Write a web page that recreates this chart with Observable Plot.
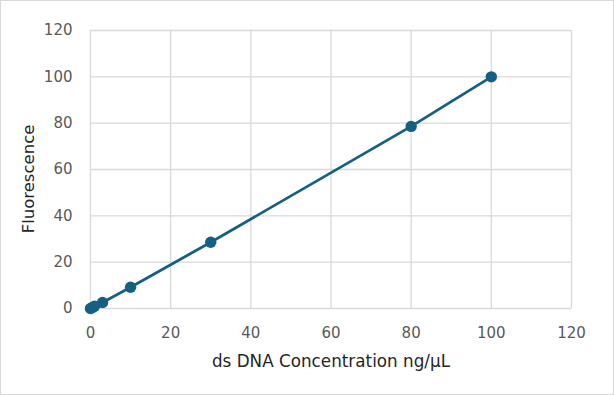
<!DOCTYPE html>
<html>
<head>
<meta charset="utf-8">
<script src="https://cdn.jsdelivr.net/npm/d3@7"></script>
<script src="https://cdn.jsdelivr.net/npm/@observablehq/plot@0.6"></script>
<style>
  html, body { margin: 0; padding: 0; background: #fff; }
  #chart svg { display: block; }
</style>
</head>
<body>
<div id="chart"></div>
<script>
const concentration = [0, 0.5, 1, 3, 10, 30, 80, 100];
const fluorescence = [0, 0.4, 1, 2.6, 9.2, 28.6, 78.6, 100];
const xTicks = [0, 20, 40, 60, 80, 100, 120];
const yTicks = [0, 20, 40, 60, 80, 100, 120];
const xTitle = "ds DNA Concentration ng/µL";
const yTitle = "Fluorescence";

const data = concentration.map((c, i) => ({x: c, y: fluorescence[i]}));
const color = "#156082";
const font = "DejaVu Sans, Verdana, sans-serif";

const chart = Plot.plot({
  width: 614,
  height: 395,
  marginLeft: 90,
  marginRight: 43,
  marginTop: 30,
  marginBottom: 87,
  style: {fontFamily: font, fontSize: "15px", color: "#595959", background: "#fff"},
  x: {domain: [0, 120], ticks: xTicks, label: null},
  y: {domain: [0, 120], ticks: yTicks, label: null},
  marks: [
    Plot.gridX(xTicks, {stroke: "#d9d9d9", strokeOpacity: 1, strokeWidth: 1.3}),
    Plot.gridY(yTicks, {stroke: "#d9d9d9", strokeOpacity: 1, strokeWidth: 1.3}),
    Plot.axisX(xTicks, {tickSize: 0, tickPadding: 19, fill: "#595959", fontSize: 15, label: null}),
    Plot.axisY(yTicks, {tickSize: 0, tickPadding: 18, fill: "#595959", fontSize: 15, label: null}),
    Plot.line(data, {x: "x", y: "y", stroke: color, strokeWidth: 2.8}),
    Plot.dot(data, {x: "x", y: "y", r: 5.7, fill: color, stroke: "none"})
  ]
});

const svg = d3.select(chart);
svg.insert("rect", ":first-child")
  .attr("x", 0.5).attr("y", 0.5)
  .attr("width", 613).attr("height", 394)
  .attr("fill", "#fff").attr("stroke", "#d9d9d9").attr("stroke-width", 1);
svg.append("text")
  .attr("x", 331).attr("y", 367)
  .attr("text-anchor", "middle")
  .attr("fill", "#262626")
  .style("font-family", font).style("font-size", "16.8px")
  .text(xTitle);
svg.append("text")
  .attr("transform", "translate(34,179) rotate(-90)")
  .attr("text-anchor", "middle")
  .attr("fill", "#262626")
  .style("font-family", font).style("font-size", "16.5px")
  .text(yTitle);

document.getElementById("chart").appendChild(chart);
</script>
</body>
</html>
